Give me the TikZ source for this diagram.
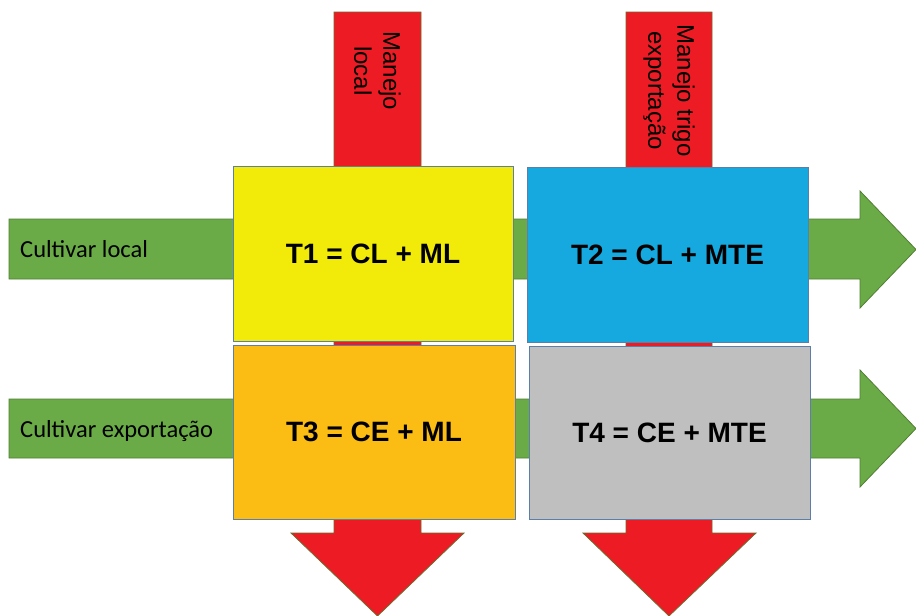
\documentclass[tikz,border=0pt]{standalone}
\usepackage{fontspec}
\setmainfont{Liberation Sans}
\newfontfamily\calib{Carlito}
\definecolor{redA}{HTML}{ED1C24}
\definecolor{greenA}{HTML}{6AAB47}
\definecolor{greenB}{HTML}{507E32}
\definecolor{yellowA}{HTML}{F2EB0A}
\definecolor{blueA}{HTML}{15A9E0}
\definecolor{orangeA}{HTML}{FBBD14}
\definecolor{grayA}{HTML}{BFBFBF}
\definecolor{edgeA}{HTML}{5B7FA8}
\begin{document}
\begin{tikzpicture}[x=1pt,y=-1pt,
  redarrow/.style={fill=redA,draw=greenB!80!redA,line width=0.8pt,line join=miter},
  greenarrow/.style={fill=greenA,draw=greenB,line width=0.8pt,line join=miter},
  boxT/.style={draw=edgeA,line width=0.9pt,inner sep=0pt,font=\fontsize{28}{32}\selectfont\bfseries},
  sidelabel/.style={anchor=base west,inner sep=0pt,font=\calib\fontsize{24.5}{28}\selectfont},
  vlabel/.style={rotate=-90,inner sep=0pt,align=center,font=\fontsize{24}{29}\selectfont}]
\useasboundingbox (0,0) rectangle (916,616);
% green arrows
\draw[greenarrow] (9,219) -- (860,219) -- (860,191) -- (916,249.5) -- (860,308) -- (860,279) -- (9,279) -- cycle;
\draw[greenarrow] (9,399) -- (860,399) -- (860,370) -- (916,428.5) -- (860,487) -- (860,458) -- (9,458) -- cycle;
% red arrows
\draw[redarrow] (334,12) -- (421,12) -- (421,533) -- (464,533) -- (377.5,616) -- (291,533) -- (334,533) -- cycle;
\draw[redarrow] (626,12) -- (712,12) -- (712,533) -- (756,533) -- (669,616) -- (583,533) -- (626,533) -- cycle;
% labels on arrows
\node[sidelabel] (cl) at (20,257) {Cultivar local};
\node[sidelabel] (ce) at (20,437) {Cultivar exportação};
\node[vlabel] (ml) at (377.5,71) {Manejo\\local};
\node[vlabel] (mte) at (669,90.5) {Manejo trigo\\exportação};
% boxes
\node[boxT,fill=yellowA,minimum width=280pt,minimum height=175pt] (t1) at (373,253.5) {T1 = CL + ML};
\node[boxT,fill=blueA,minimum width=281pt,minimum height=175pt] (t2) at (667.5,254.5) {T2 = CL + MTE};
\node[boxT,fill=orangeA,minimum width=282pt,minimum height=174pt] (t3) at (374,432) {T3 = CE + ML};
\node[boxT,fill=grayA,minimum width=281pt,minimum height=173pt] (t4) at (669.5,432.5) {T4 = CE + MTE};
\end{tikzpicture}
\end{document}
